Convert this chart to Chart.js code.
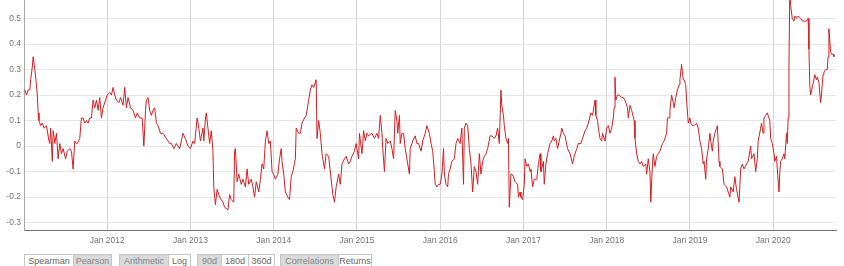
<!DOCTYPE html>
<html>
<head>
<meta charset="utf-8">
<script src="https://cdn.jsdelivr.net/npm/chart.js@4/dist/chart.umd.min.js"></script>
<style>
    body { margin: 0; background: #fff; font-family: "Liberation Sans", Arial, sans-serif; }
    #wrap { position: absolute; left: 0; top: 0; width: 844px; height: 250px; }
    .grp { position: absolute; top: 254px; height: 14px; display: flex; border: 1px solid #c4c4c4; box-sizing: border-box; }
    .grp span { display: block; box-sizing: border-box; height: 100%; font-size: 9px; line-height: 12px; text-align: center; color: #666; background: #fff; }
    .grp span + span { border-left: 1px solid #c4c4c4; }
    .grp span.on { background: #dadada; color: #858585; }
</style>
</head>
<body>
<div id="wrap"><canvas id="myChart" width="844" height="250"></canvas></div>
<div class="grp" style="left:24px"><span style="width:48px">Spearman</span><span class="on" style="width:38px">Pearson</span></div>
<div class="grp" style="left:119px"><span class="on" style="width:48px">Arithmetic</span><span style="width:22px">Log</span></div>
<div class="grp" style="left:197px"><span class="on" style="width:23px">90d</span><span style="width:27px">180d</span><span style="width:26px">360d</span></div>
<div class="grp" style="left:280px"><span class="on" style="width:57px">Correlations</span><span style="width:33px">Returns</span></div>
<script>
// decimal year of each sample
var dates = [
    2011.01, 2011.03, 2011.05, 2011.07, 2011.08, 2011.10, 2011.11, 2011.13, 2011.14, 2011.16,
    2011.17, 2011.18, 2011.20, 2011.22, 2011.24, 2011.27, 2011.30, 2011.31, 2011.32, 2011.34,
    2011.35, 2011.37, 2011.39, 2011.41, 2011.43, 2011.45, 2011.47, 2011.50, 2011.52, 2011.55,
    2011.57, 2011.59, 2011.61, 2011.63, 2011.64, 2011.67, 2011.69, 2011.71, 2011.73, 2011.75,
    2011.77, 2011.79, 2011.81, 2011.83, 2011.85, 2011.87, 2011.89, 2011.91, 2011.93, 2011.95,
    2011.98, 2012.00, 2012.03, 2012.05, 2012.07, 2012.09, 2012.11, 2012.14, 2012.16, 2012.19,
    2012.21, 2012.23, 2012.25, 2012.28, 2012.31, 2012.34, 2012.36, 2012.39, 2012.42, 2012.44,
    2012.46, 2012.47, 2012.49, 2012.51, 2012.53, 2012.55, 2012.57, 2012.59, 2012.61, 2012.64,
    2012.67, 2012.71, 2012.75, 2012.77, 2012.80, 2012.83, 2012.87, 2012.89, 2012.91, 2012.95,
    2012.97, 2013.00, 2013.03, 2013.05, 2013.08, 2013.10, 2013.12, 2013.15, 2013.16, 2013.18,
    2013.19, 2013.21, 2013.23, 2013.25, 2013.27, 2013.28, 2013.30, 2013.32, 2013.35, 2013.39,
    2013.41, 2013.45, 2013.47, 2013.49, 2013.52, 2013.53, 2013.54, 2013.56, 2013.58, 2013.61,
    2013.63, 2013.66, 2013.68, 2013.70, 2013.73, 2013.75, 2013.77, 2013.79, 2013.82, 2013.84,
    2013.86, 2013.88, 2013.90, 2013.92, 2013.94, 2013.96, 2013.98, 2014.00, 2014.02, 2014.05,
    2014.07, 2014.09, 2014.10, 2014.12, 2014.14, 2014.17, 2014.19, 2014.21, 2014.23, 2014.26,
    2014.27, 2014.30, 2014.32, 2014.34, 2014.37, 2014.39, 2014.42, 2014.44, 2014.46, 2014.48,
    2014.50, 2014.51, 2014.52, 2014.54, 2014.56, 2014.58, 2014.61, 2014.63, 2014.66, 2014.69,
    2014.71, 2014.73, 2014.75, 2014.78, 2014.80, 2014.82, 2014.85, 2014.87, 2014.90, 2014.92,
    2014.94, 2014.97, 2014.99, 2015.02, 2015.03, 2015.06, 2015.08, 2015.10, 2015.12, 2015.14,
    2015.18, 2015.21, 2015.24, 2015.26, 2015.28, 2015.30, 2015.31, 2015.33, 2015.35, 2015.37,
    2015.40, 2015.42, 2015.44, 2015.46, 2015.48, 2015.49, 2015.51, 2015.52, 2015.54, 2015.56,
    2015.58, 2015.60, 2015.61, 2015.63, 2015.64, 2015.67, 2015.70, 2015.72, 2015.74, 2015.77,
    2015.79, 2015.82, 2015.84, 2015.87, 2015.89, 2015.91, 2015.93, 2015.94, 2015.96, 2015.98,
    2016.00, 2016.02, 2016.04, 2016.05, 2016.07, 2016.09, 2016.10, 2016.12, 2016.14, 2016.17,
    2016.19, 2016.21, 2016.24, 2016.26, 2016.28, 2016.29, 2016.31, 2016.33, 2016.35, 2016.37,
    2016.39, 2016.41, 2016.43, 2016.45, 2016.47, 2016.49, 2016.51, 2016.53, 2016.55, 2016.57,
    2016.60, 2016.62, 2016.65, 2016.67, 2016.69, 2016.71, 2016.73, 2016.74, 2016.76, 2016.77,
    2016.79, 2016.81, 2016.82, 2016.83, 2016.85, 2016.86, 2016.88, 2016.90, 2016.93, 2016.94,
    2016.96, 2016.97, 2016.99, 2017.01, 2017.02, 2017.04, 2017.06, 2017.08, 2017.09, 2017.11,
    2017.13, 2017.16, 2017.18, 2017.20, 2017.21, 2017.24, 2017.25, 2017.27, 2017.29, 2017.32,
    2017.34, 2017.36, 2017.37, 2017.39, 2017.41, 2017.43, 2017.45, 2017.46, 2017.48, 2017.50,
    2017.53, 2017.56, 2017.59, 2017.61, 2017.64, 2017.66, 2017.69, 2017.71, 2017.74, 2017.76,
    2017.78, 2017.81, 2017.83, 2017.86, 2017.87, 2017.89, 2017.90, 2017.92, 2017.94, 2017.95,
    2017.98, 2018.00, 2018.02, 2018.04, 2018.06, 2018.08, 2018.09, 2018.10, 2018.11, 2018.13,
    2018.15, 2018.18, 2018.20, 2018.22, 2018.25, 2018.26, 2018.28, 2018.30, 2018.33, 2018.34,
    2018.36, 2018.38, 2018.40, 2018.42, 2018.44, 2018.47, 2018.48, 2018.50, 2018.52, 2018.53,
    2018.55, 2018.56, 2018.58, 2018.60, 2018.62, 2018.64, 2018.67, 2018.69, 2018.72, 2018.73,
    2018.75, 2018.76, 2018.78, 2018.80, 2018.81, 2018.83, 2018.85, 2018.87, 2018.88, 2018.90,
    2018.92, 2018.93, 2018.95, 2018.96, 2018.98, 2019.00, 2019.01, 2019.03, 2019.05, 2019.08,
    2019.10, 2019.12, 2019.14, 2019.16, 2019.17, 2019.19, 2019.20, 2019.22, 2019.24, 2019.25,
    2019.27, 2019.28, 2019.30, 2019.32, 2019.33, 2019.35, 2019.36, 2019.39, 2019.41, 2019.44,
    2019.46, 2019.48, 2019.49, 2019.52, 2019.54, 2019.56, 2019.59, 2019.61, 2019.63, 2019.65,
    2019.68, 2019.70, 2019.73, 2019.74, 2019.77, 2019.79, 2019.81, 2019.82, 2019.85, 2019.86,
    2019.88, 2019.89, 2019.91, 2019.93, 2019.94, 2019.96, 2019.97, 2019.99, 2020.01, 2020.02,
    2020.04, 2020.05, 2020.07, 2020.08, 2020.09, 2020.11, 2020.13, 2020.14, 2020.16, 2020.17,
    2020.18, 2020.19, 2020.20, 2020.21, 2020.23, 2020.25, 2020.26, 2020.28, 2020.30, 2020.33,
    2020.35, 2020.37, 2020.40, 2020.42, 2020.43, 2020.44, 2020.45, 2020.47, 2020.49, 2020.50,
    2020.52, 2020.53, 2020.55, 2020.57, 2020.58, 2020.60, 2020.61, 2020.63, 2020.65, 2020.66,
    2020.67, 2020.69, 2020.70, 2020.72, 2020.73
];

// 90d Pearson correlation
var corr = [
    0.22, 0.20, 0.22, 0.22, 0.26, 0.31, 0.35, 0.30, 0.27, 0.20,
    0.13, 0.10, 0.08, 0.09, 0.07, 0.08, 0.02, 0.01, 0.07, -0.06,
    0.06, 0.01, 0.05, -0.05, 0.01, -0.03, -0.01, -0.05, -0.02, -0.01,
    -0.02, -0.09, 0.02, 0.01, 0.01, 0.03, 0.11, 0.11, 0.09, 0.10,
    0.09, 0.11, 0.11, 0.18, 0.15, 0.18, 0.14, 0.19, 0.11, 0.15,
    0.18, 0.20, 0.21, 0.20, 0.23, 0.20, 0.18, 0.17, 0.19, 0.16,
    0.23, 0.15, 0.19, 0.15, 0.14, 0.11, 0.13, 0.11, 0.11, 0.00,
    0.14, 0.18, 0.19, 0.14, 0.12, 0.14, 0.15, 0.09, 0.08, 0.05,
    0.05, 0.03, 0.01, 0.01, -0.01, 0.01, -0.01, 0.02, 0.05, 0.02,
    0.00, -0.01, 0.02, 0.01, 0.11, 0.07, 0.02, 0.07, 0.02, 0.11,
    0.13, 0.07, 0.01, 0.06, -0.02, -0.16, -0.23, -0.17, -0.20, -0.22,
    -0.24, -0.25, -0.19, -0.21, -0.22, -0.02, -0.01, -0.14, -0.11, -0.15,
    -0.13, -0.16, -0.09, -0.15, -0.13, -0.16, -0.20, -0.14, -0.18, -0.13,
    -0.07, -0.09, 0.02, 0.06, 0.01, 0.02, -0.10, -0.11, -0.13, -0.11,
    -0.05, -0.01, -0.06, -0.11, -0.18, -0.20, -0.21, -0.12, -0.10, -0.05,
    0.07, 0.05, 0.05, 0.09, 0.11, 0.12, 0.18, 0.22, 0.24, 0.23,
    0.25, 0.26, 0.03, 0.10, 0.05, -0.03, -0.09, -0.03, -0.04, -0.13,
    -0.19, -0.22, -0.16, -0.11, -0.15, -0.07, -0.05, -0.04, -0.07, -0.06,
    -0.04, -0.02, 0.01, -0.05, 0.05, -0.03, 0.06, 0.02, 0.05, 0.04,
    0.05, 0.03, 0.05, 0.03, 0.12, 0.05, -0.01, -0.10, 0.03, 0.01,
    0.02, -0.01, -0.05, 0.14, 0.10, 0.05, 0.12, 0.01, 0.05, 0.05,
    -0.01, -0.05, -0.07, -0.11, -0.01, 0.02, 0.04, 0.01, 0.01, -0.02,
    0.02, 0.05, 0.08, 0.05, 0.01, -0.02, -0.10, -0.15, -0.16, -0.15,
    -0.15, -0.11, -0.01, -0.11, -0.15, -0.16, -0.11, -0.09, -0.06, -0.05,
    0.01, 0.03, 0.01, 0.07, -0.15, 0.07, 0.09, 0.08, -0.01, -0.07,
    -0.18, -0.08, -0.10, -0.15, -0.03, -0.11, -0.06, -0.04, -0.03, -0.01,
    0.04, 0.04, 0.03, 0.04, 0.07, 0.01, 0.22, 0.16, 0.12, 0.08,
    0.03, 0.01, 0.03, -0.24, -0.11, -0.11, -0.12, -0.14, -0.15, -0.20,
    -0.18, -0.20, -0.21, -0.15, -0.05, -0.08, -0.07, -0.10, -0.09, -0.16,
    -0.13, -0.13, -0.07, -0.03, -0.10, -0.06, -0.15, -0.07, -0.03, 0.01,
    0.02, 0.04, 0.02, 0.03, -0.01, 0.02, 0.05, 0.07, 0.05, 0.04,
    -0.01, -0.03, -0.07, -0.04, -0.01, 0.01, 0.01, 0.03, 0.06, 0.07,
    0.09, 0.13, 0.12, 0.18, 0.12, 0.10, 0.07, 0.03, 0.02, 0.05,
    0.02, 0.07, 0.08, 0.05, 0.07, 0.11, 0.15, 0.27, 0.18, 0.20,
    0.20, 0.19, 0.19, 0.18, 0.15, 0.11, 0.16, 0.14, 0.10, 0.03,
    -0.03, -0.06, -0.07, -0.06, -0.08, -0.07, -0.11, -0.05, -0.10, -0.22,
    -0.07, -0.03, -0.08, -0.04, -0.03, -0.02, 0.01, 0.02, 0.05, 0.11,
    0.11, 0.14, 0.20, 0.17, 0.15, 0.19, 0.22, 0.24, 0.26, 0.32,
    0.26, 0.26, 0.24, 0.18, 0.09, 0.11, 0.09, 0.08, 0.08, 0.09,
    0.07, 0.02, -0.01, -0.07, -0.06, -0.13, -0.05, -0.01, 0.05, 0.02,
    -0.02, 0.02, 0.05, 0.07, 0.08, -0.06, -0.08, -0.09, -0.15, -0.16,
    -0.18, -0.20, -0.16, -0.18, -0.12, -0.17, -0.22, -0.09, -0.07, -0.09,
    -0.07, -0.06, 0.00, -0.05, -0.03, -0.10, -0.05, 0.02, 0.07, 0.09,
    0.05, 0.11, 0.12, 0.13, 0.12, 0.10, 0.03, 0.01, -0.03, -0.06,
    -0.04, -0.09, -0.18, -0.10, -0.06, -0.05, -0.03, -0.05, 0.05, 0.01,
    0.11, 0.31, 0.62, 0.55, 0.50, 0.49, 0.51, 0.50, 0.51, 0.50,
    0.49, 0.49, 0.49, 0.50, 0.38, 0.24, 0.20, 0.23, 0.26, 0.28,
    0.26, 0.27, 0.25, 0.17, 0.20, 0.28, 0.29, 0.30, 0.30, 0.35,
    0.46, 0.37, 0.36, 0.36, 0.35
];

var xTicks = [2012, 2013, 2014, 2015, 2016, 2017, 2018, 2019, 2020];
var yTicks = [-0.3, -0.2, -0.1, 0, 0.1, 0.2, 0.3, 0.4, 0.5];

document.addEventListener("DOMContentLoaded", function() {
    var points = dates.map((d, i) => ({ x: d, y: corr[i] }));
    var tickFont = { family: "'Liberation Sans', Arial, sans-serif", size: 8.5 };

    var ctx = document.getElementById('myChart').getContext('2d');
    new Chart(ctx, {
        type: 'line',
        data: {
            datasets: [{
                data: points,
                borderColor: 'rgb(212, 30, 34)',
                borderWidth: 1,
                pointRadius: 0,
                tension: 0,
                fill: false
            }]
        },
        options: {
            responsive: false,
            animation: false,
            layout: { padding: { left: 0, right: 8, top: 0, bottom: 0 } },
            plugins: { legend: { display: false }, tooltip: { enabled: false } },
            scales: {
                x: {
                    type: 'linear',
                    min: 2011.0,
                    max: 2020.755,
                    afterBuildTicks: s => { s.ticks = xTicks.map(v => ({ value: v })); },
                    afterFit: s => { s.height = 20; s.paddingLeft = 0; s.paddingRight = 0; },
                    grid: { color: '#d4d4d4', drawTicks: false },
                    border: { color: '#6e6e6e', width: 1 },
                    ticks: {
                        color: '#707070',
                        font: tickFont,
                        padding: 6,
                        maxRotation: 0,
                        autoSkip: false,
                        callback: v => 'Jan ' + v
                    }
                },
                y: {
                    min: -0.329,
                    max: 0.5725,
                    afterBuildTicks: s => { s.ticks = yTicks.map(v => ({ value: v })); },
                    afterFit: s => { s.width = 24; s.paddingTop = 0; s.paddingBottom = 0; },
                    grid: { color: '#e6e6e6', drawTicks: false },
                    border: { color: '#a8a8a8', width: 1 },
                    ticks: {
                        color: '#707070',
                        font: tickFont,
                        padding: 3,
                        callback: v => String(Math.round(v * 10) / 10)
                    }
                }
            }
        }
    });
});
</script>
</body>
</html>
